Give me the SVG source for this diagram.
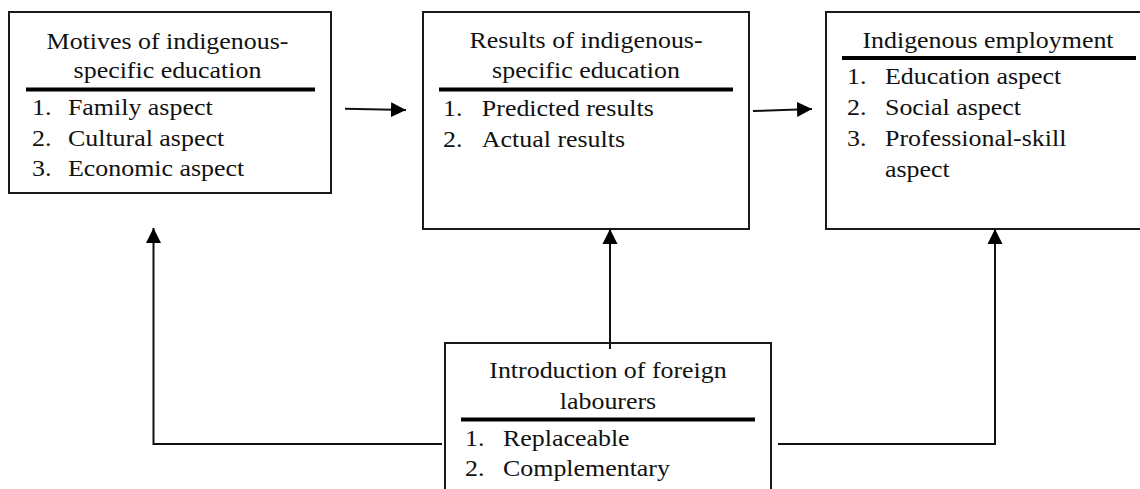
<svg xmlns="http://www.w3.org/2000/svg" width="1140" height="489" viewBox="0 0 1140 489">
  <style>
    .box { fill: #ffffff; stroke: #1a1a1a; stroke-width: 2; }
    .sep { stroke: #000000; stroke-width: 4; }
    .t { font-family: 'Liberation Serif', 'Times New Roman', serif; font-size: 24px; fill: #111111; }
    .c { text-anchor: middle; }
    .conn { fill: none; stroke: #111111; stroke-width: 2; }
  </style>
  <defs>
    <marker id="arrow" markerUnits="userSpaceOnUse" markerWidth="16" markerHeight="16" refX="15" refY="7.5" orient="auto" viewBox="0 0 16 15">
      <path d="M0,0 L15,7.5 L0,15 Z" fill="#000000"/>
    </marker>
  </defs>
  <rect width="1140" height="489" fill="#ffffff"/>

  <g id="node-motives" font-family="Liberation Serif, serif">
    <rect class="box" x="9" y="12" width="322" height="181"/>
    <g transform="translate(167.5,0) scale(1.08,1)">
      <text class="t c" x="0" y="49">Motives of indigenous-</text>
      <text class="t c" x="0" y="78">specific education</text>
    </g>
    <line class="sep" x1="26" y1="89.5" x2="315" y2="89.5"/>
    <g transform="translate(32,0) scale(1.08,1)">
      <text class="t" x="0" y="115">1.</text>
      <text class="t" x="33.3" y="115">Family aspect</text>
      <text class="t" x="0" y="146">2.</text>
      <text class="t" x="33.3" y="146">Cultural aspect</text>
      <text class="t" x="0" y="176">3.</text>
      <text class="t" x="33.3" y="176">Economic aspect</text>
    </g>
  </g>

  <g id="node-results" font-family="Liberation Serif, serif">
    <rect class="box" x="423" y="12" width="326" height="217"/>
    <g transform="translate(586,0) scale(1.08,1)">
      <text class="t c" x="0" y="48.5">Results of indigenous-</text>
      <text class="t c" x="0" y="78.5">specific education</text>
    </g>
    <line class="sep" x1="439" y1="89.5" x2="733" y2="89.5"/>
    <g transform="translate(443,0) scale(1.08,1)">
      <text class="t" x="0" y="116">1.</text>
      <text class="t" x="36" y="116">Predicted results</text>
      <text class="t" x="0" y="147">2.</text>
      <text class="t" x="36" y="147">Actual results</text>
    </g>
  </g>

  <g id="node-employment" font-family="Liberation Serif, serif">
    <rect class="box" x="826" y="12" width="330" height="217"/>
    <g transform="translate(988,0) scale(1.08,1)">
      <text class="t c" x="0" y="48">Indigenous employment</text>
    </g>
    <line class="sep" x1="842" y1="58" x2="1136" y2="58"/>
    <g transform="translate(847,0) scale(1.08,1)">
      <text class="t" x="0" y="84">1.</text>
      <text class="t" x="35.2" y="84">Education aspect</text>
      <text class="t" x="0" y="115">2.</text>
      <text class="t" x="35.2" y="115">Social aspect</text>
      <text class="t" x="0" y="146">3.</text>
      <text class="t" x="35.2" y="146">Professional-skill</text>
      <text class="t" x="35.2" y="177">aspect</text>
    </g>
  </g>

  <g id="node-foreign" font-family="Liberation Serif, serif">
    <rect class="box" x="445" y="343" width="326" height="160"/>
    <g transform="translate(608,0) scale(1.08,1)">
      <text class="t c" x="0" y="378">Introduction of foreign</text>
      <text class="t c" x="0" y="409">labourers</text>
    </g>
    <line class="sep" x1="461" y1="419.5" x2="755" y2="419.5"/>
    <g transform="translate(465,0) scale(1.08,1)">
      <text class="t" x="0" y="446">1.</text>
      <text class="t" x="35.2" y="446">Replaceable</text>
      <text class="t" x="0" y="476">2.</text>
      <text class="t" x="35.2" y="476">Complementary</text>
    </g>
  </g>

  <g id="connectors">
    <path class="conn" d="M345,108.7 L406,110" marker-end="url(#arrow)"/>
    <path class="conn" d="M753,111 L812,109" marker-end="url(#arrow)"/>
    <path class="conn" d="M610,349 L610,229" marker-end="url(#arrow)"/>
    <path class="conn" d="M442,444 L153.5,444 L153.5,228" marker-end="url(#arrow)"/>
    <path class="conn" d="M778,444 L995,444 L995,229" marker-end="url(#arrow)"/>
  </g>
</svg>
